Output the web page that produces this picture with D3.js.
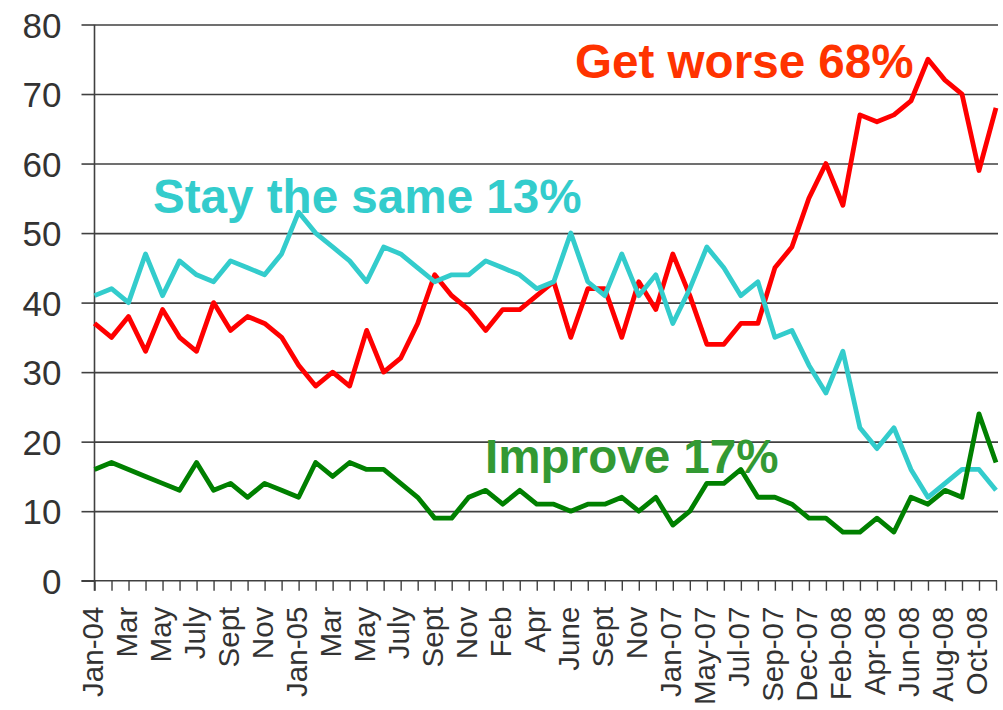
<!DOCTYPE html>
<html>
<head>
<meta charset="utf-8">
<script src="https://cdn.jsdelivr.net/npm/d3@7"></script>
<style>
  body { margin: 0; background: #fff; }
  svg { display: block; font-family: "Liberation Sans", Arial, sans-serif; }
</style>
</head>
<body>
<div id="chart"></div>
<script>
// Tick labels, one for every second survey point
var tickLabels = ["Jan-04", "Mar", "May", "July", "Sept", "Nov", "Jan-05", "Mar", "May", "July",
  "Sept", "Nov", "Feb", "Apr", "June", "Sept", "Nov", "Jan-07", "May-07", "Jul-07",
  "Sep-07", "Dec-07", "Feb-08", "Apr-08", "Jun-08", "Aug-08", "Oct-08"];

var getWorse = [37, 35, 38, 33, 39, 35, 33, 40, 36, 38, 37, 35, 31,
  28, 30, 28, 36, 30, 32, 37, 44, 41, 39, 36, 39, 39, 41,
  43, 35, 42, 42, 35, 43, 39, 47, 41, 34, 34, 37, 37,
  45, 48, 55, 60, 54, 67, 66, 67, 69, 75, 72, 70, 59, 68];

var staySame = [41, 42, 40, 47, 41, 46, 44, 43, 46, 45, 44, 47, 53,
  50, 48, 46, 43, 48, 47, 45, 43, 44, 44, 46, 45, 44, 42,
  43, 50, 43, 41, 47, 41, 44, 37, 42, 48, 45, 41, 43,
  35, 36, 31, 27, 33, 22, 19, 22, 16, 12, 14, 16, 16, 13];

var improve = [16, 17, 16, 15, 14, 13, 17, 13, 14, 12, 14, 13, 12,
  17, 15, 17, 16, 16, 14, 12, 9, 9, 12, 13, 11, 13, 11,
  11, 10, 11, 11, 12, 10, 12, 8, 10, 14, 14, 16, 12,
  12, 11, 9, 9, 7, 7, 9, 7, 12, 11, 13, 12, 24, 17];

var series = [
  {name: "Get worse", last: "68%", values: getWorse, color: "#ff0000", text: "#ff3300", lx: 575, ly: 78},
  {name: "Stay the same", last: "13%", values: staySame, color: "#33cccc", text: "#33cccc", lx: 153, ly: 213},
  {name: "Improve", last: "17%", values: improve, color: "#008000", text: "#339933", lx: 485, ly: 473}
];

var width = 1003, height = 710,
    margin = {top: 24.5, right: 7, bottom: 129.3, left: 94.5};

var n = getWorse.length;

var x = d3.scaleLinear()
    .domain([0, n - 1])
    .range([margin.left, width - margin.right]);

var y = d3.scaleLinear()
    .domain([0, 80])
    .range([height - margin.bottom, margin.top]);

var svg = d3.select("#chart").append("svg")
    .attr("width", width)
    .attr("height", height);

// horizontal grid lines
svg.append("g")
    .attr("class", "grid")
    .attr("transform", "translate(" + margin.left + ",0)")
    .call(d3.axisLeft(y).tickValues(d3.range(10, 81, 10))
        .tickSize(-(width - margin.left - margin.right + 2)).tickFormat(""))
    .call(function(g) { g.select(".domain").remove(); })
    .selectAll("line")
    .attr("stroke", "#404040")
    .attr("stroke-width", 1.6);

// y axis
var yAxis = svg.append("g")
    .attr("transform", "translate(" + margin.left + ",0)")
    .call(d3.axisLeft(y).tickValues(d3.range(0, 81, 10)).tickSize(13).tickPadding(20));
yAxis.select(".domain")
    .attr("d", "M0," + y(80) + "V" + (y(0) + 10))
    .attr("stroke", "#404040").attr("stroke-width", 1.6);
yAxis.selectAll("line").attr("stroke", "#404040").attr("stroke-width", 1.6);
yAxis.selectAll("text")
    .attr("font-size", 35)
    .attr("fill", "#333")
    .attr("dy", "0.36em");

// x axis
var xAxis = svg.append("g")
    .attr("transform", "translate(0," + y(0) + ")")
    .call(d3.axisBottom(x).tickValues(d3.range(n)).tickSize(10)
        .tickFormat(function(d) { return d % 2 === 0 ? tickLabels[d / 2] : ""; }));
xAxis.select(".domain")
    .attr("d", "M" + (margin.left - 13) + ",0H" + (width - margin.right + 1))
    .attr("stroke", "#404040").attr("stroke-width", 1.6);
xAxis.selectAll("line").attr("stroke", "#404040").attr("stroke-width", 1.4);
xAxis.selectAll("text")
    .attr("font-size", 29.5)
    .attr("fill", "#333")
    .attr("text-anchor", "end")
    .attr("transform", "rotate(-90)")
    .attr("x", -26)
    .attr("y", -3)
    .attr("dy", "0.36em");

// lines
var line = d3.line()
    .x(function(d, i) { return x(i); })
    .y(function(d) { return y(d); });

svg.append("g")
    .selectAll("path")
    .data(series)
    .enter().append("path")
    .attr("d", function(d) { return line(d.values); })
    .attr("fill", "none")
    .attr("stroke", function(d) { return d.color; })
    .attr("stroke-width", 4.8)
    .attr("stroke-linejoin", "round");

// series labels
svg.append("g")
    .selectAll("text")
    .data(series)
    .enter().append("text")
    .attr("x", function(d) { return d.lx; })
    .attr("y", function(d) { return d.ly; })
    .attr("font-size", 47.6)
    .attr("font-weight", "bold")
    .attr("fill", function(d) { return d.text; })
    .text(function(d) { return d.name + " " + d.last; });
</script>
</body>
</html>
